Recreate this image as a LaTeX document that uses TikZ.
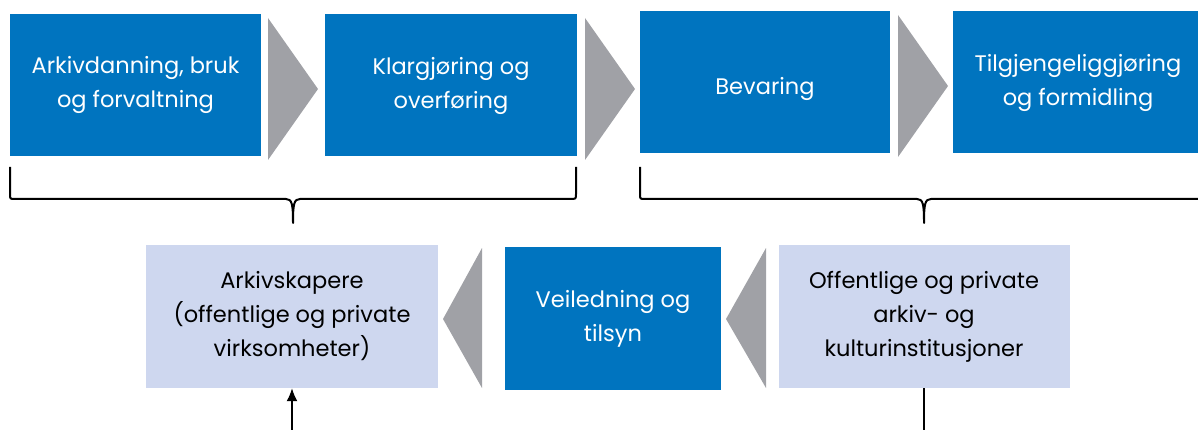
\documentclass[tikz,border=0pt]{standalone}
\usepackage{fontspec}
\setmainfont{Poppins}
\usetikzlibrary{arrows.meta}
\definecolor{stepblue}{RGB}{0,116,191}
\definecolor{steplight}{RGB}{206,215,239}
\definecolor{stepgray}{RGB}{160,161,166}

\begin{document}
\begin{tikzpicture}[x=1pt, y=-1pt,
  every node/.style={font=\fontsize{22.5}{34}\selectfont, align=center, inner sep=0pt,
    execute at begin node={\rule{0pt}{30pt}}},
  bluebox/.style={fill=stepblue, text=white, minimum height=142pt},
  lightbox/.style={fill=steplight, text=black, minimum height=143pt},
  chevron/.style={fill=stepgray},
  curly/.style={line width=2pt, line join=round}]
  \useasboundingbox (0,0) rectangle (1198,430);

  \node[bluebox, minimum width=251pt] (bruk) at (135.5,85) {Arkivdanning, bruk\\og forvaltning};
  \node[bluebox, minimum width=252pt] (klar) at (451,85.5) {Klargjøring og\\overføring};
  \node[bluebox, minimum width=250pt] (bevar) at (765,82.5) {Bevaring};
  \node[bluebox, minimum width=250pt] (formidl) at (1078,82.5) {Tilgjengeliggjøring\\og formidling};

  \fill[chevron] (268,18) -- (318,89) -- (268,160) -- cycle;
  \fill[chevron] (585,18) -- (635,89) -- (585,160) -- cycle;
  \fill[chevron] (898,15) -- (948,86) -- (898,157) -- cycle;

  \node[lightbox, minimum width=292pt] (skapere) at (292,316.5) {Arkivskapere\\(offentlige og private\\virksomheter)};
  \node[bluebox, minimum width=216pt, minimum height=143pt] (tilsyn) at (613,318.5) {Veiledning og\\tilsyn};
  \node[lightbox, minimum width=291pt] (inst) at (924,316.5) {Offentlige og private\\arkiv- og\\kulturinstitusjoner};

  \fill[chevron] (482,248) -- (443,319) -- (482,388) -- cycle;
  \fill[chevron] (766,248) -- (726,319) -- (766,388) -- cycle;

  \draw[curly] (10,167) -- (10,194) .. controls (10,199) .. (15,199) -- (286,199)
    .. controls (292,199) and (293,204) .. (293,223)
    .. controls (293,204) and (294,199) .. (300,199) -- (570,199)
    .. controls (576,199) .. (576,194) -- (576,167);
  \draw[curly] (640,167) -- (640,194) .. controls (640,199) .. (645,199) -- (917,199)
    .. controls (923,199) and (924,204) .. (924,223)
    .. controls (924,204) and (925,199) .. (931,199) -- (1210,199);

  \coordinate (inn) at (292,430);
  \coordinate (ut) at (924,430);
  \draw[line width=1.6pt, -{Latex[length=13pt, width=11pt]}] (inn) -- (skapere.south);
  \draw[line width=1.6pt] (inst.south) -- (ut);
\end{tikzpicture}
\end{document}
